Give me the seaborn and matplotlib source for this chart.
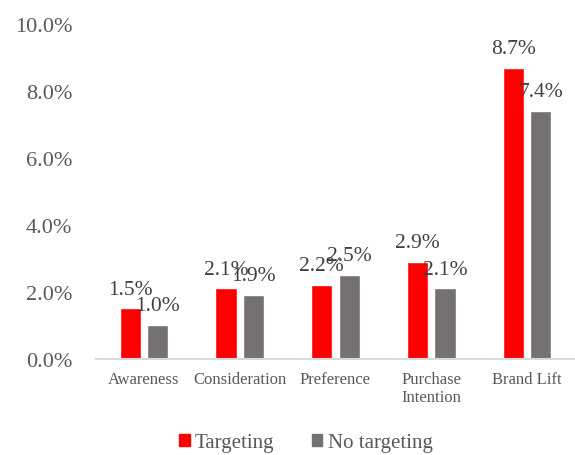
import matplotlib
matplotlib.use("Agg")
import matplotlib.pyplot as plt
import seaborn as sns
import pandas as pd
from matplotlib.ticker import PercentFormatter

# --- data ---
categories = ["Awareness", "Consideration", "Preference", "Purchase\nIntention", "Brand Lift"]
targeting = [1.5, 2.1, 2.2, 2.9, 8.7]
no_targeting = [1.0, 1.9, 2.5, 2.1, 7.4]
series = ["Targeting", "No targeting"]
colors = ["#FF0000", "#767171"]

df = pd.DataFrame({
    "category": categories * 2,
    "value": targeting + no_targeting,
    "series": [series[0]] * len(categories) + [series[1]] * len(categories),
})

sns.set_style("white")
plt.rcParams["font.family"] = ["Liberation Serif", "DejaVu Serif"]

fig = plt.figure(figsize=(5.75, 4.56), dpi=100)
ax = fig.add_axes([96 / 575, 0.2116, 1 - 96 / 575, 0.945 - 0.2116])

sns.barplot(data=df, x="category", y="value", hue="series", palette=colors,
            width=0.57, gap=0.22, saturation=1, errorbar=None, ax=ax)

# data labels (overlaps are as in the original)
for cont in ax.containers:
    ax.bar_label(cont, labels=[f"{v:.1f}%" for v in cont.datavalues],
                 padding=7, fontsize=15.5, color="#404040")

ax.set_ylim(0, 10)
ax.set_yticks([0, 2, 4, 6, 8, 10])
ax.yaxis.set_major_formatter(PercentFormatter(decimals=1))
ax.set_xlim(-0.5, 4.5)
ax.set_xlabel("")
ax.set_ylabel("")
ax.tick_params(axis="y", length=0, pad=17, labelsize=16, labelcolor="#595959")
ax.tick_params(axis="x", length=0, pad=9, labelsize=12, labelcolor="#595959")
ax.set_xticks(range(len(categories)))
ax.set_xticklabels(categories, linespacing=1.15)

for s in ["top", "right", "left"]:
    ax.spines[s].set_visible(False)
ax.spines["bottom"].set_color("#D9D9D9")
ax.spines["bottom"].set_linewidth(1.5)

ax.get_legend().remove()
handles = [plt.Rectangle((0, 0), 1, 1, color=c) for c in colors]
fig.legend(handles, series, loc="center", bbox_to_anchor=(306 / 575, 1 - 444 / 456),
           ncol=2, frameon=False, fontsize=15, handlelength=0.5, handleheight=0.5,
           handletextpad=0.25, columnspacing=1.8, labelcolor="#595959")

fig.savefig("out.png", dpi=100)
